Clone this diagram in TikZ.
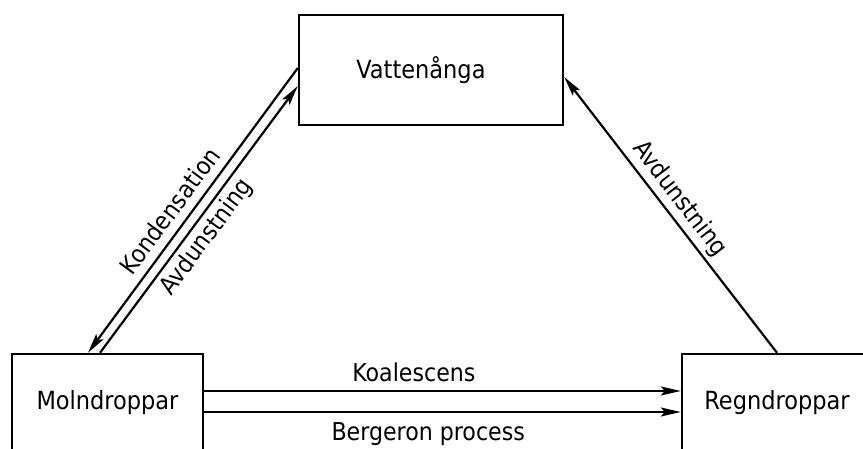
\documentclass[tikz,border=0pt]{standalone}
\usepackage{fontspec}
\setmainfont{DejaVu Sans Condensed}
\usepackage{tikz}
\usetikzlibrary{arrows.meta,positioning}

\begin{document}
\begin{tikzpicture}[x=0.5pt,y=0.5pt,
  box/.style={draw,line width=1.2pt,inner sep=0pt,font=\fontsize{12.5}{14}\selectfont},
  pil/.style={line width=1.1pt,-{Stealth[length=10pt,width=4.5pt,inset=2pt]}},
  txt/.style={font=\fontsize{12.3}{14}\selectfont,inner sep=2pt}]
\useasboundingbox (0,0) rectangle (863,449);
\clip (0,0) rectangle (863,449);
\node[box,minimum width=132pt,minimum height=55pt] (vatten) at (431,379) {Vattenånga\hspace*{10pt}};
\node[box,minimum width=95.5pt,minimum height=49pt] (moln) at (107.5,46) {Molndroppar};
\node[box,minimum width=95pt,minimum height=49pt] (regn) at (777,46) {Regndroppar};
\draw[pil] ([yshift=1pt]vatten.west) -- ([xshift=-9.75pt]moln.north)
  node[txt,sloped,above=2pt,pos=0.54] {Kondensation};
\draw[pil] ([xshift=-3.75pt]moln.north) -- ([yshift=-8pt]vatten.west)
  node[txt,sloped,below,pos=0.47] {Avdunstning};
\draw[pil] (regn.north) -- ([yshift=-3.5pt]vatten.east)
  node[txt,sloped,above,pos=0.52] {Avdunstning};
\draw[pil] ([yshift=6pt]moln.east) -- ([yshift=6pt]regn.west)
  node[txt,above=2pt,pos=0.44] {Koalescens};
\draw[pil] ([yshift=-4.5pt]moln.east) -- ([yshift=-4.5pt]regn.west)
  node[txt,below=2.5pt,pos=0.47] {Bergeron process};
\end{tikzpicture}
\end{document}
